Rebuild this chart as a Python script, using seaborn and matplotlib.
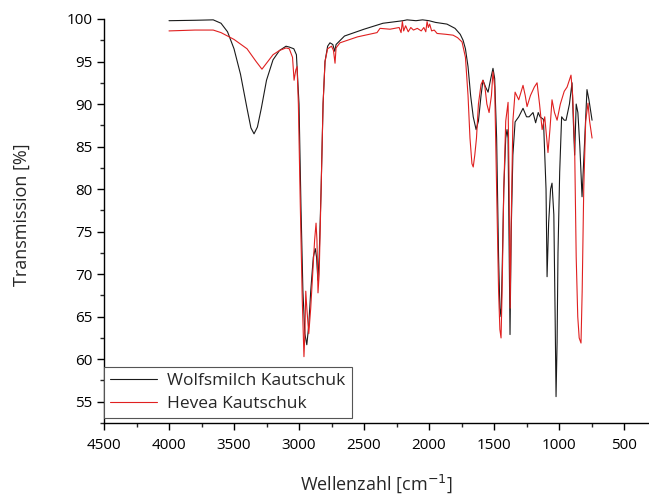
import matplotlib
matplotlib.use("Agg")
import matplotlib.pyplot as plt
from matplotlib.ticker import MultipleLocator
import seaborn as sns
import pandas as pd

# Wolfsmilch Kautschuk (black)
wolf_wn = [4000, 3800, 3660, 3600, 3550, 3500, 3450, 3400, 3370, 3346, 3320, 3290, 3250, 3200,
           3150, 3100, 3075, 3040, 3020, 3000, 2985, 2970, 2955, 2940, 2925, 2910, 2890, 2875,
           2865, 2855, 2845, 2830, 2815, 2800, 2780, 2762, 2740, 2725, 2715, 2650, 2500, 2354,
           2200, 2169, 2100, 2050, 2000, 1950, 1862, 1800, 1760, 1738, 1720, 1700, 1680, 1660,
           1638, 1620, 1600, 1585, 1565, 1546, 1525, 1508, 1495, 1480, 1465, 1455, 1446, 1438,
           1425, 1410, 1400, 1392, 1385, 1377, 1368, 1355, 1338, 1310, 1277, 1250, 1230, 1200,
           1180, 1160, 1146, 1120, 1100, 1092, 1080, 1065, 1054, 1040, 1030, 1023, 1015, 1008,
           995, 980, 960, 946, 920, 900, 890, 880, 868, 855, 840, 823, 805, 785, 770, 746]
wolf_t = [99.8, 99.85, 99.9, 99.5, 98.5, 96.5, 93.5, 89.5, 87.2, 86.5, 87.3, 89.5, 92.8, 95.2,
          96.3, 96.8, 96.7, 96.5, 95.8, 90.0, 78.0, 68.0, 63.0, 61.7, 64.0, 68.0, 72.0, 73.0,
          72.0, 69.3, 72.0, 80.0, 90.0, 95.0, 96.8, 97.2, 97.0, 96.2, 97.0, 98.0, 98.8, 99.5,
          99.8, 99.9, 99.8, 99.9, 99.8, 99.6, 99.4, 98.9, 98.2, 97.5, 96.5, 94.4, 91.0, 88.5,
          87.0, 88.0, 91.0, 92.8, 92.0, 91.4, 93.0, 94.2, 93.0, 86.0, 72.0, 66.0, 65.0, 70.0,
          80.0, 86.0, 87.0, 86.0, 75.0, 62.9, 75.0, 84.0, 87.9, 88.5, 89.5, 88.5, 88.5, 89.0,
          87.8, 89.0, 88.5, 88.2, 80.0, 69.7, 76.0, 80.0, 80.7, 77.0, 65.0, 55.6, 62.0, 72.5,
          82.0, 88.5, 88.1, 88.1, 90.0, 92.5, 88.0, 84.0, 90.0, 89.0, 85.0, 79.1, 85.0, 91.7, 90.5, 88.1]

# Hevea Kautschuk (red)
hevea_wn = [4000, 3800, 3660, 3600, 3500, 3400, 3330, 3285, 3250, 3200, 3150, 3100, 3075, 3050,
            3038, 3025, 3015, 3005, 2990, 2975, 2962, 2955, 2948, 2940, 2925, 2910, 2895, 2880,
            2869, 2862, 2854, 2845, 2830, 2815, 2800, 2780, 2750, 2735, 2723, 2715, 2685, 2550,
            2400, 2377, 2300, 2230, 2215, 2205, 2195, 2180, 2160, 2140, 2120, 2090, 2060, 2040,
            2025, 2015, 2005, 1995, 1980, 1960, 1938, 1870, 1815, 1780, 1746, 1720, 1700, 1685,
            1670, 1660, 1648, 1635, 1620, 1600, 1585, 1570, 1555, 1538, 1520, 1508, 1495, 1480,
            1465, 1455, 1446, 1438, 1425, 1410, 1392, 1385, 1376, 1368, 1355, 1338, 1310, 1277,
            1260, 1246, 1220, 1190, 1169, 1150, 1130, 1110, 1085, 1070, 1054, 1035, 1015, 990,
            960, 938, 908, 895, 880, 868, 856, 845, 831, 822, 810, 795, 777, 765, 746]
hevea_t = [98.6, 98.7, 98.7, 98.4, 97.6, 96.5, 95.0, 94.1, 94.8, 95.8, 96.3, 96.6, 96.5, 95.5,
           92.8, 94.0, 94.4, 90.0, 78.0, 67.0, 60.3, 63.0, 68.0, 66.0, 63.0, 66.0, 70.0, 74.0,
           76.0, 74.0, 67.8, 70.0, 80.0, 90.0, 95.0, 96.5, 96.8, 96.3, 94.8, 96.6, 97.2, 97.9,
           98.4, 98.9, 98.8, 99.0, 98.4, 99.7, 98.6, 99.2, 98.5, 99.0, 98.7, 98.9, 98.6, 99.0,
           98.5, 99.7, 99.0, 99.4, 98.6, 98.7, 98.3, 98.2, 98.1, 97.8, 97.3, 95.5, 91.0, 86.0,
           83.0, 82.6, 84.0, 86.0, 90.0, 92.3, 92.8, 92.0, 90.0, 89.0, 91.0, 93.8, 92.0, 80.0,
           68.0, 63.5, 62.5, 68.0, 80.0, 88.0, 90.2, 82.0, 66.0, 76.0, 88.0, 91.4, 90.5, 92.2,
           91.0, 89.7, 91.0, 92.0, 92.5, 90.0, 87.0, 88.5, 84.3, 87.0, 90.5, 89.0, 88.1, 90.0,
           91.5, 92.0, 93.4, 91.0, 85.0, 72.0, 65.0, 62.5, 61.9, 68.0, 80.0, 88.0, 90.1, 88.0, 86.0]

series_names = ["Wolfsmilch Kautschuk", "Hevea Kautschuk"]
x_ticks = [4500, 4000, 3500, 3000, 2500, 2000, 1500, 1000, 500]
y_ticks = [55, 60, 65, 70, 75, 80, 85, 90, 95, 100]

df = pd.concat([
    pd.DataFrame({"wn": wolf_wn, "T": wolf_t, "Probe": series_names[0]}),
    pd.DataFrame({"wn": hevea_wn, "T": hevea_t, "Probe": series_names[1]}),
], ignore_index=True)

sns.set_style("ticks")
plt.rcParams["font.family"] = ["Open Sans", "DejaVu Sans"]

fig = plt.figure(figsize=(6.49, 4.95), dpi=100)
ax = fig.add_axes([104 / 649, 1 - 423 / 495, 1 - 104 / 649, (423 - 19) / 495])

sns.lineplot(data=df, x="wn", y="T", hue="Probe", sort=False, estimator=None,
             palette={series_names[0]: "#1a1a1a", series_names[1]: "#e02020"},
             linewidth=0.8, ax=ax)

ax.set_xlim(4500, 308)
ax.set_ylim(52.5, 100)
ax.set_xticks(x_ticks)
ax.set_yticks(y_ticks)
ax.xaxis.set_minor_locator(MultipleLocator(250))
ax.yaxis.set_minor_locator(MultipleLocator(2.5))
ax.tick_params(which="major", direction="out", length=5, width=1, labelsize=11, colors="black")
ax.tick_params(axis="x", which="major", pad=6)
ax.tick_params(which="minor", direction="out", length=3, width=1)
for s in ["top", "right"]:
    ax.spines[s].set_visible(False)
for s in ["left", "bottom"]:
    ax.spines[s].set_linewidth(1)
    ax.spines[s].set_color("black")

ax.set_xlabel("Wellenzahl [cm$^{-1}$]", fontsize=13, labelpad=14)
ax.set_ylabel("Transmission [%]", fontsize=13)
ax.yaxis.set_label_coords(-0.134, 0.515)

leg = ax.legend(loc="lower left", bbox_to_anchor=(0, 0.012), borderaxespad=0,
                fancybox=False, edgecolor="#555555", fontsize=12.5, handlelength=2.7,
                handletextpad=0.6, labelspacing=0.4, borderpad=0.35,
                title=None, framealpha=1)
leg.get_frame().set_linewidth(0.8)

fig.savefig("out.png", dpi=100)
